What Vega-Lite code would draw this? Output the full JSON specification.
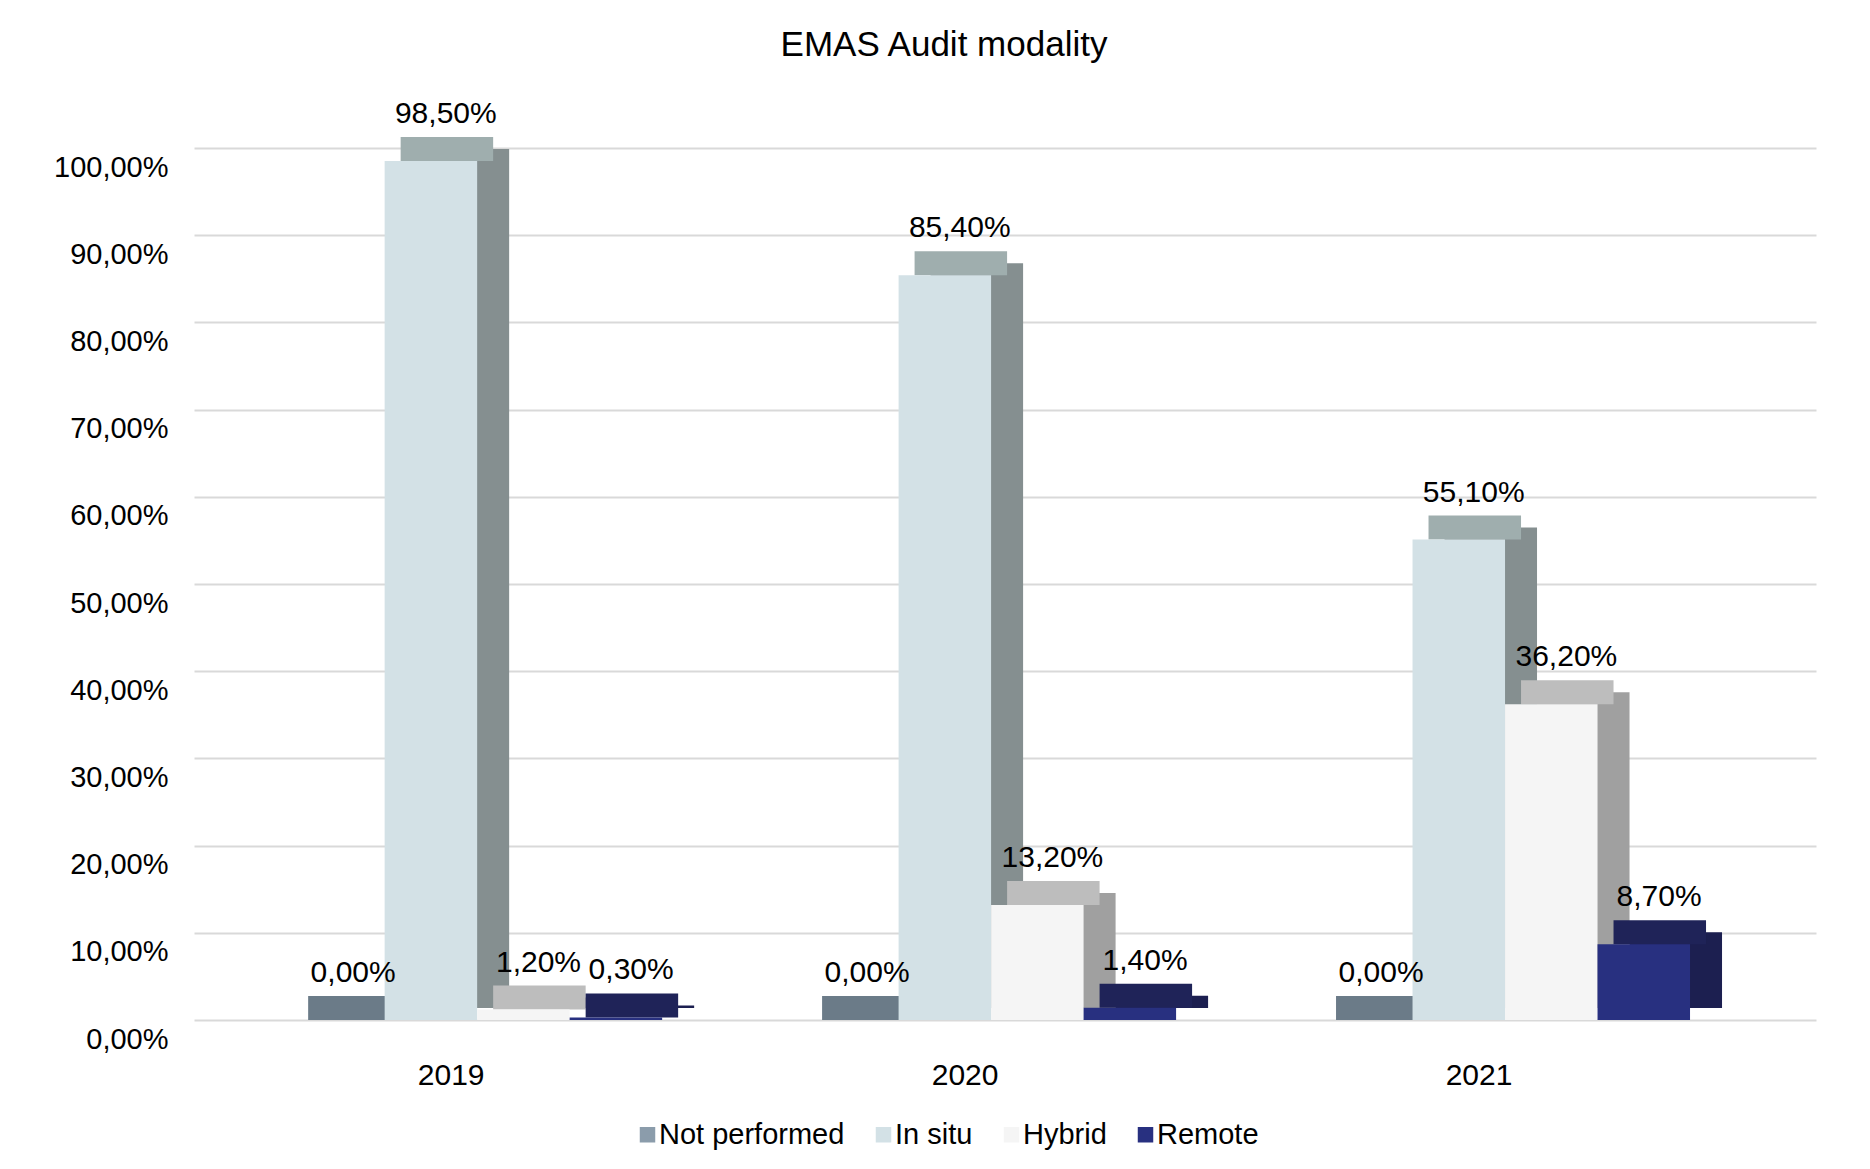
{
  "$schema": "https://vega.github.io/schema/vega-lite/v6.json",
  "width": 1622,
  "height": 872,
  "autosize": "none",
  "padding": {"left": 194, "top": 148, "right": 54, "bottom": 149},
  "background": "white",
  "config": {
    "locale": {"number": {"decimal": ",", "thousands": ".", "grouping": [3], "currency": ["", " €"]}},
    "view": {"stroke": null},
    "font": "Liberation Sans"
  },
  "title": {"text": "EMAS Audit modality", "fontSize": 35, "font": "Liberation Sans", "fontWeight": "normal", "color": "#000000", "offset": 36, "dx": -61},
  "data": {
    "values": [
      {"year": "2019", "modality": "Not performed", "share": 0.0},
      {"year": "2019", "modality": "In situ", "share": 0.985},
      {"year": "2019", "modality": "Hybrid", "share": 0.012},
      {"year": "2019", "modality": "Remote", "share": 0.003},
      {"year": "2020", "modality": "Not performed", "share": 0.0},
      {"year": "2020", "modality": "In situ", "share": 0.854},
      {"year": "2020", "modality": "Hybrid", "share": 0.132},
      {"year": "2020", "modality": "Remote", "share": 0.014},
      {"year": "2021", "modality": "Not performed", "share": 0.0},
      {"year": "2021", "modality": "In situ", "share": 0.551},
      {"year": "2021", "modality": "Hybrid", "share": 0.362},
      {"year": "2021", "modality": "Remote", "share": 0.087}
    ]
  },
  "encoding": {
    "x": {
      "field": "year", "type": "nominal",
      "scale": {"paddingInner": 0.28, "paddingOuter": 0.218, "align": 0.438},
      "axis": {"title": null, "domain": false, "ticks": false, "labelFontSize": 30, "labelPadding": 40, "labelOffset": -26, "labelAngle": 0, "labelColor": "#000000", "grid": false}
    },
    "y": {
      "field": "share", "type": "quantitative",
      "scale": {"domain": [0, 1], "nice": false},
      "axis": {
        "title": null, "values": [0, 0.1, 0.2, 0.3, 0.4, 0.5, 0.6, 0.7, 0.8, 0.9, 1.0],
        "format": ".2%", "domain": false, "ticks": false, "labelFontSize": 29, "labelPadding": 26, "labelOffset": 19,
        "labelColor": "#000000", "gridColor": "#D9D9D9", "gridWidth": 2
      }
    }
  },
  "layer": [
    {
      "mark": {"type": "bar", "yOffset": -12, "y2Offset": -12},
      "encoding": {
        "xOffset": {"field": "modality", "type": "nominal", "sort": ["Not performed", "In situ", "Hybrid", "Remote"], "scale": {"paddingInner": 0, "paddingOuter": 0, "range": [32, 402]}},
        "color": {
          "field": "modality", "type": "nominal",
          "scale": {"domain": ["Not performed", "In situ", "Hybrid", "Remote"], "range": ["#55626D", "#858F90", "#A0A0A0", "#1C1F50"]},
          "legend": null
        }
      }
    },
    {
      "mark": {"type": "bar", "yOffset": -24},
      "encoding": {
        "xOffset": {"field": "modality", "type": "nominal", "sort": ["Not performed", "In situ", "Hybrid", "Remote"], "scale": {"paddingInner": 0, "paddingOuter": 0, "range": [16, 386]}},
        "y2": {"field": "share"},
        "color": {
          "field": "modality", "type": "nominal",
          "scale": {"domain": ["Not performed", "In situ", "Hybrid", "Remote"], "range": ["#6B7B88", "#9FAEAE", "#BDBDBD", "#1F2358"]},
          "legend": null
        }
      }
    },
    {
      "mark": {"type": "bar"},
      "encoding": {
        "xOffset": {"field": "modality", "type": "nominal", "sort": ["Not performed", "In situ", "Hybrid", "Remote"], "scale": {"paddingInner": 0, "paddingOuter": 0, "range": [0, 370]}},
        "color": {
          "field": "modality", "type": "nominal",
          "scale": {"domain": ["Not performed", "In situ", "Hybrid", "Remote"], "range": ["#8B9CAB", "#D3E1E6", "#F5F5F5", "#283080"]},
          "legend": {
            "orient": "none", "legendX": 439, "legendY": 972, "direction": "horizontal", "title": null,
            "labelFontSize": 29, "labelColor": "#000000", "labelLimit": 0, "symbolType": "square", "symbolSize": 240,
            "symbolStrokeWidth": 0, "columnPadding": 24, "labelOffset": -3
          }
        }
      }
    },
    {
      "mark": {"type": "text", "fontSize": 30, "dx": 15, "dy": -47, "baseline": "middle", "color": "#000000"},
      "encoding": {
        "xOffset": {"field": "modality", "type": "nominal", "sort": ["Not performed", "In situ", "Hybrid", "Remote"], "scale": {"type": "point", "padding": 0, "range": [46, 324]}},
        "text": {"field": "share", "type": "quantitative", "format": ".2%"}
      }
    }
  ],
  "resolve": {"scale": {"color": "independent", "xOffset": "independent"}}
}
